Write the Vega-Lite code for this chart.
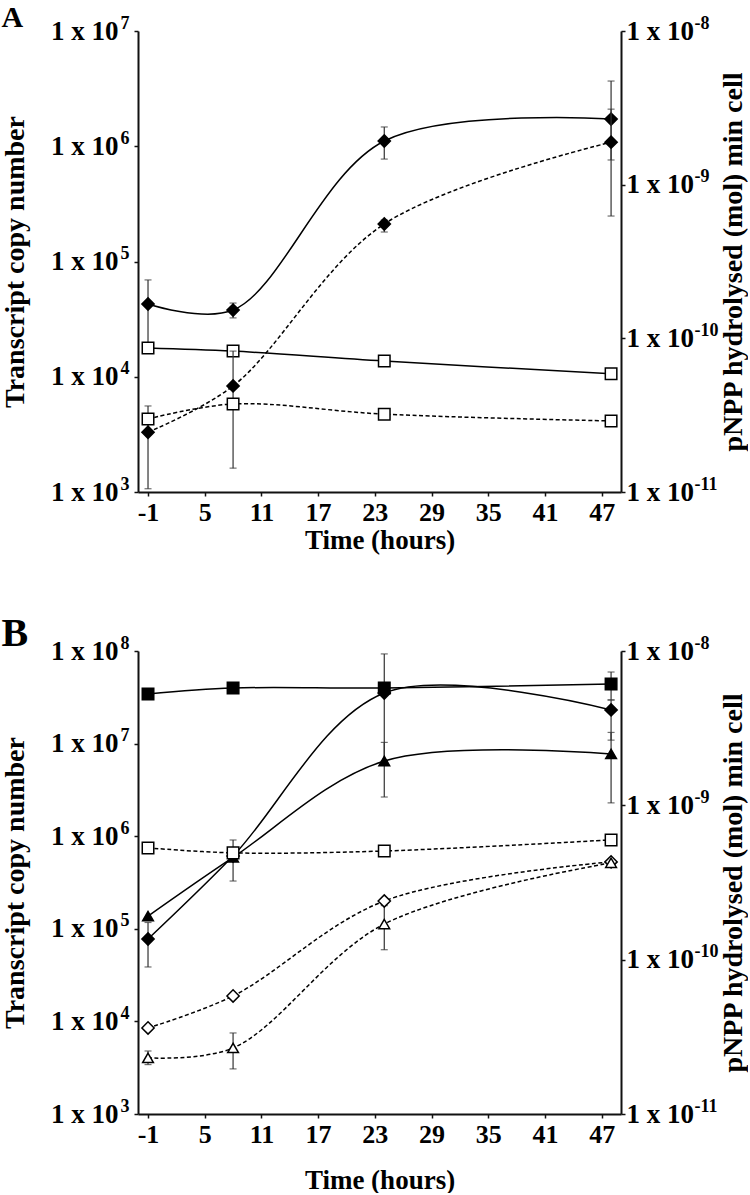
{
  "$schema": "https://vega.github.io/schema/vega-lite/v6.json",
  "padding": {"left": 1, "top": 3, "right": 0, "bottom": 0},
  "background": "white",
  "config": {
    "view": {"stroke": null},
    "font": "Liberation Serif",
    "axis": {
      "grid": false,
      "domainColor": "#111",
      "domainWidth": 2,
      "tickColor": "#111",
      "tickWidth": 1.5,
      "tickSize": 4,
      "labelFont": "Liberation Serif",
      "labelFontWeight": "bold",
      "labelColor": "#000",
      "titleFont": "Liberation Serif",
      "titleFontWeight": "bold",
      "titleColor": "#000",
      "labelOverlap": false,
      "labelFlush": false
    },
    "axisX": {"labelFontSize": 26, "labelPadding": 3, "titlePadding": 2, "titleFontSize": 27},
    "axisY": {"labelFontSize": 27, "labelPadding": 3, "titleFontSize": 28}
  },
  "datasets": {
    "A": [
      {"series": "A diamond transcript", "marker": "diamond", "fill": "filled", "axis": "transcript", "t": -1, "v": 42800, "lo": 16400, "hi": 69200},
      {"series": "A diamond transcript", "marker": "diamond", "fill": "filled", "axis": "transcript", "t": 8, "v": 37900, "lo": 32400, "hi": 43600},
      {"series": "A diamond transcript", "marker": "diamond", "fill": "filled", "axis": "transcript", "t": 24, "v": 1110000, "lo": 774000, "hi": 1470000},
      {"series": "A diamond transcript", "marker": "diamond", "fill": "filled", "axis": "transcript", "t": 48, "v": 1720000, "lo": 760000, "hi": 3680000},
      {"series": "A square transcript", "marker": "square", "fill": "open", "axis": "transcript", "t": -1, "v": 17800, "lo": null, "hi": null},
      {"series": "A square transcript", "marker": "square", "fill": "open", "axis": "transcript", "t": 8, "v": 16700, "lo": null, "hi": null},
      {"series": "A square transcript", "marker": "square", "fill": "open", "axis": "transcript", "t": 24, "v": 13700, "lo": null, "hi": null},
      {"series": "A square transcript", "marker": "square", "fill": "open", "axis": "transcript", "t": 48, "v": 10600, "lo": null, "hi": null},
      {"series": "A diamond activity", "marker": "diamond", "fill": "filled", "axis": "activity", "t": -1, "v": 2.45e-11, "lo": 1.05e-11, "hi": 3.63e-11},
      {"series": "A diamond activity", "marker": "diamond", "fill": "filled", "axis": "activity", "t": 8, "v": 4.9e-11, "lo": null, "hi": null},
      {"series": "A diamond activity", "marker": "diamond", "fill": "filled", "axis": "activity", "t": 24, "v": 5.55e-10, "lo": 4.92e-10, "hi": 5.89e-10},
      {"series": "A diamond activity", "marker": "diamond", "fill": "filled", "axis": "activity", "t": 48, "v": 1.89e-9, "lo": 6.25e-10, "hi": 3.1e-9},
      {"series": "A square activity", "marker": "square", "fill": "open", "axis": "activity", "t": -1, "v": 2.99e-11, "lo": null, "hi": null},
      {"series": "A square activity", "marker": "square", "fill": "open", "axis": "activity", "t": 8, "v": 3.74e-11, "lo": 1.43e-11, "hi": 8.26e-11},
      {"series": "A square activity", "marker": "square", "fill": "open", "axis": "activity", "t": 24, "v": 3.21e-11, "lo": null, "hi": null},
      {"series": "A square activity", "marker": "square", "fill": "open", "axis": "activity", "t": 48, "v": 2.9e-11, "lo": null, "hi": null}
    ],
    "B": [
      {"series": "B square transcript", "marker": "square", "fill": "filled", "axis": "transcript", "t": -1, "v": 34400000, "lo": null, "hi": null},
      {"series": "B square transcript", "marker": "square", "fill": "filled", "axis": "transcript", "t": 8, "v": 39800000, "lo": null, "hi": null},
      {"series": "B square transcript", "marker": "square", "fill": "filled", "axis": "transcript", "t": 24, "v": 39800000, "lo": null, "hi": null},
      {"series": "B square transcript", "marker": "square", "fill": "filled", "axis": "transcript", "t": 48, "v": 44000000, "lo": 29600000, "hi": 59300000},
      {"series": "B diamond transcript", "marker": "diamond", "fill": "filled", "axis": "transcript", "t": -1, "v": 77600, "lo": 38700, "hi": 117000},
      {"series": "B diamond transcript", "marker": "diamond", "fill": "filled", "axis": "transcript", "t": 8, "v": 611000, "lo": 328000, "hi": 910000},
      {"series": "B diamond transcript", "marker": "diamond", "fill": "filled", "axis": "transcript", "t": 24, "v": 35200000, "lo": 6500000, "hi": 93000000},
      {"series": "B diamond transcript", "marker": "diamond", "fill": "filled", "axis": "transcript", "t": 48, "v": 23100000, "lo": 10900000, "hi": 29600000},
      {"series": "B triangle transcript", "marker": "triangle", "fill": "filled", "axis": "transcript", "t": -1, "v": 137000, "lo": null, "hi": null},
      {"series": "B triangle transcript", "marker": "triangle", "fill": "filled", "axis": "transcript", "t": 8, "v": 590000, "lo": null, "hi": null},
      {"series": "B triangle transcript", "marker": "triangle", "fill": "filled", "axis": "transcript", "t": 24, "v": 6490000, "lo": 2650000, "hi": 10300000},
      {"series": "B triangle transcript", "marker": "triangle", "fill": "filled", "axis": "transcript", "t": 48, "v": 7730000, "lo": 2290000, "hi": 13200000},
      {"series": "B square activity", "marker": "square", "fill": "open", "axis": "activity", "t": -1, "v": 5.3e-10, "lo": null, "hi": null},
      {"series": "B square activity", "marker": "square", "fill": "open", "axis": "activity", "t": 8, "v": 4.92e-10, "lo": null, "hi": null},
      {"series": "B square activity", "marker": "square", "fill": "open", "axis": "activity", "t": 24, "v": 5.06e-10, "lo": null, "hi": null},
      {"series": "B square activity", "marker": "square", "fill": "open", "axis": "activity", "t": 48, "v": 5.97e-10, "lo": null, "hi": null},
      {"series": "B diamond activity", "marker": "diamond", "fill": "open", "axis": "activity", "t": -1, "v": 3.61e-11, "lo": null, "hi": null},
      {"series": "B diamond activity", "marker": "diamond", "fill": "open", "axis": "activity", "t": 8, "v": 5.82e-11, "lo": null, "hi": null},
      {"series": "B diamond activity", "marker": "diamond", "fill": "open", "axis": "activity", "t": 24, "v": 2.4e-10, "lo": null, "hi": null},
      {"series": "B diamond activity", "marker": "diamond", "fill": "open", "axis": "activity", "t": 48, "v": 4.3e-10, "lo": null, "hi": null},
      {"series": "B triangle activity", "marker": "triangle", "fill": "open", "axis": "activity", "t": -1, "v": 2.31e-11, "lo": 2.09e-11, "hi": 2.56e-11},
      {"series": "B triangle activity", "marker": "triangle", "fill": "open", "axis": "activity", "t": 8, "v": 2.68e-11, "lo": 1.96e-11, "hi": 3.35e-11},
      {"series": "B triangle activity", "marker": "triangle", "fill": "open", "axis": "activity", "t": 24, "v": 1.7e-10, "lo": 1.16e-10, "hi": 2.24e-10},
      {"series": "B triangle activity", "marker": "triangle", "fill": "open", "axis": "activity", "t": 48, "v": 4.24e-10, "lo": null, "hi": null}
    ]
  },
  "vconcat": [
    {
      "data": {"name": "A"},
      "width": 483,
      "height": 461,
      "title": {"text": "A", "anchor": "start", "frame": "bounds", "font": "Liberation Serif", "fontWeight": "bold", "fontSize": 30, "color": "#000", "offset": -19},
      "encoding": {
        "x": {"field": "t", "type": "quantitative", "title": "Time (hours)", "scale": {"domain": [-2.06, 49.05], "nice": false, "zero": false}, "axis": {"values": [-1, 5, 11, 17, 23, 29, 35, 41, 47], "labelExpr": "'' + datum.value"}}
      },
      "layer": [
        {
          "transform": [{"filter": "datum.axis == 'transcript'"}],
          "layer": [
            {"transform": [{"filter": "isValid(datum.lo)"}], "mark": {"type": "rule", "color": "#333", "strokeWidth": 1.2}, "encoding": {"y": {"field": "lo", "type": "quantitative", "title": "Transcript copy number", "scale": {"type": "log", "domain": [1000, 10000000], "nice": false}, "axis": {"orient": "left", "values": [1000, 10000, 100000, 1000000, 10000000], "labelExpr": "'1 x 10'", "labelPadding": 16, "titlePadding": 21}}, "y2": {"field": "hi"}}},
            {"transform": [{"filter": "isValid(datum.lo)"}], "mark": {"type": "tick", "orient": "horizontal", "color": "#333", "thickness": 1.2, "size": 7}, "encoding": {"y": {"field": "lo", "type": "quantitative", "scale": {"type": "log", "domain": [1000, 10000000], "nice": false}, "axis": null}}},
            {"transform": [{"filter": "isValid(datum.hi)"}], "mark": {"type": "tick", "orient": "horizontal", "color": "#333", "thickness": 1.2, "size": 7}, "encoding": {"y": {"field": "hi", "type": "quantitative", "scale": {"type": "log", "domain": [1000, 10000000], "nice": false}, "axis": null}}},
            {"mark": {"type": "line", "interpolate": "catmull-rom", "color": "#000", "strokeWidth": 1.5}, "encoding": {"detail": {"field": "series"}, "order": {"field": "t"}, "y": {"field": "v", "type": "quantitative", "scale": {"type": "log", "domain": [1000, 10000000], "nice": false}, "axis": null}}},
            {"mark": {"type": "point", "filled": true, "stroke": "#000", "strokeWidth": 1.5, "opacity": 1}, "encoding": {
              "y": {"field": "v", "type": "quantitative", "scale": {"type": "log", "domain": [1000, 10000000], "nice": false}, "axis": {"orient": "left", "values": [1000, 10000, 100000, 1000000, 10000000], "labelExpr": "datum.value > 5e7 ? '8' : datum.value > 5e6 ? '7' : datum.value > 5e5 ? '6' : datum.value > 5e4 ? '5' : datum.value > 5e3 ? '4' : '3'", "labelFontSize": 18, "labelPadding": 5, "labelOffset": -8, "domain": false, "tickOpacity": 0, "title": null}},
              "shape": {"field": "marker", "type": "nominal", "scale": {"domain": ["diamond", "square", "triangle"], "range": ["diamond", "square", "triangle-up"]}, "legend": null},
              "fill": {"field": "fill", "type": "nominal", "scale": {"domain": ["filled", "open"], "range": ["#000000", "#ffffff"]}, "legend": null},
              "size": {"field": "marker", "type": "ordinal", "scale": {"domain": ["diamond", "square", "triangle"], "range": [150, 115, 160]}, "legend": null}
            }}
          ],
          "resolve": {"axis": {"y": "independent"}}
        },
        {
          "transform": [{"filter": "datum.axis == 'activity'"}],
          "layer": [
            {"transform": [{"filter": "isValid(datum.lo)"}], "mark": {"type": "rule", "color": "#333", "strokeWidth": 1.2}, "encoding": {"y": {"field": "lo", "type": "quantitative", "scale": {"type": "log", "domain": [1e-11, 1e-8], "nice": false}, "axis": {"orient": "right", "values": [1e-11, 1e-10, 1e-9, 1e-8], "labelExpr": "'1 x 10'", "labelPadding": 1, "title": null}}, "y2": {"field": "hi"}}},
            {"transform": [{"filter": "isValid(datum.lo)"}], "mark": {"type": "tick", "orient": "horizontal", "color": "#333", "thickness": 1.2, "size": 7}, "encoding": {"y": {"field": "lo", "type": "quantitative", "scale": {"type": "log", "domain": [1e-11, 1e-8], "nice": false}, "axis": null}}},
            {"transform": [{"filter": "isValid(datum.hi)"}], "mark": {"type": "tick", "orient": "horizontal", "color": "#333", "thickness": 1.2, "size": 7}, "encoding": {"y": {"field": "hi", "type": "quantitative", "scale": {"type": "log", "domain": [1e-11, 1e-8], "nice": false}, "axis": null}}},
            {"mark": {"type": "line", "interpolate": "catmull-rom", "color": "#000", "strokeWidth": 1.5, "strokeDash": [4, 2.5]}, "encoding": {"detail": {"field": "series"}, "order": {"field": "t"}, "y": {"field": "v", "type": "quantitative", "scale": {"type": "log", "domain": [1e-11, 1e-8], "nice": false}, "axis": null}}},
            {"mark": {"type": "point", "filled": true, "stroke": "#000", "strokeWidth": 1.5, "opacity": 1}, "encoding": {
              "y": {"field": "v", "type": "quantitative", "title": "pNPP hydrolysed (mol) min  cell", "scale": {"type": "log", "domain": [1e-11, 1e-8], "nice": false}, "axis": {"orient": "right", "values": [1e-11, 1e-10, 1e-9, 1e-8], "labelExpr": "datum.value > 5e-9 ? '-8' : datum.value > 5e-10 ? '-9' : datum.value > 5e-11 ? '-10' : '-11'", "labelFontSize": 18, "labelPadding": 69, "labelOffset": -8, "domain": false, "tickOpacity": 0, "titleAngle": 270, "titleBaseline": "top", "titlePadding": 2}},
              "shape": {"field": "marker", "type": "nominal", "scale": {"domain": ["diamond", "square", "triangle"], "range": ["diamond", "square", "triangle-up"]}, "legend": null},
              "fill": {"field": "fill", "type": "nominal", "scale": {"domain": ["filled", "open"], "range": ["#000000", "#ffffff"]}, "legend": null},
              "size": {"field": "marker", "type": "ordinal", "scale": {"domain": ["diamond", "square", "triangle"], "range": [150, 115, 160]}, "legend": null}
            }}
          ],
          "resolve": {"axis": {"y": "independent"}}
        }
      ],
      "resolve": {"scale": {"y": "independent"}, "axis": {"y": "independent"}}
    },
    {
      "data": {"name": "B"},
      "width": 483,
      "height": 463,
      "title": {"text": "B", "anchor": "start", "frame": "bounds", "font": "Liberation Serif", "fontWeight": "bold", "fontSize": 40, "color": "#000", "offset": -20},
      "encoding": {
        "x": {"field": "t", "type": "quantitative", "title": "Time (hours)", "scale": {"domain": [-2.06, 49.05], "nice": false, "zero": false}, "axis": {"values": [-1, 5, 11, 17, 23, 29, 35, 41, 47], "labelExpr": "'' + datum.value", "titlePadding": 20}}
      },
      "layer": [
        {
          "transform": [{"filter": "datum.axis == 'transcript'"}],
          "layer": [
            {"transform": [{"filter": "isValid(datum.lo)"}], "mark": {"type": "rule", "color": "#333", "strokeWidth": 1.2}, "encoding": {"y": {"field": "lo", "type": "quantitative", "title": "Transcript copy number", "scale": {"type": "log", "domain": [1000, 100000000], "nice": false}, "axis": {"orient": "left", "values": [1000, 10000, 100000, 1000000, 10000000, 100000000], "labelExpr": "'1 x 10'", "labelPadding": 16, "titlePadding": 21}}, "y2": {"field": "hi"}}},
            {"transform": [{"filter": "isValid(datum.lo)"}], "mark": {"type": "tick", "orient": "horizontal", "color": "#333", "thickness": 1.2, "size": 7}, "encoding": {"y": {"field": "lo", "type": "quantitative", "scale": {"type": "log", "domain": [1000, 100000000], "nice": false}, "axis": null}}},
            {"transform": [{"filter": "isValid(datum.hi)"}], "mark": {"type": "tick", "orient": "horizontal", "color": "#333", "thickness": 1.2, "size": 7}, "encoding": {"y": {"field": "hi", "type": "quantitative", "scale": {"type": "log", "domain": [1000, 100000000], "nice": false}, "axis": null}}},
            {"mark": {"type": "line", "interpolate": "catmull-rom", "color": "#000", "strokeWidth": 1.5}, "encoding": {"detail": {"field": "series"}, "order": {"field": "t"}, "y": {"field": "v", "type": "quantitative", "scale": {"type": "log", "domain": [1000, 100000000], "nice": false}, "axis": null}}},
            {"mark": {"type": "point", "filled": true, "stroke": "#000", "strokeWidth": 1.5, "opacity": 1}, "encoding": {
              "y": {"field": "v", "type": "quantitative", "scale": {"type": "log", "domain": [1000, 100000000], "nice": false}, "axis": {"orient": "left", "values": [1000, 10000, 100000, 1000000, 10000000, 100000000], "labelExpr": "datum.value > 5e7 ? '8' : datum.value > 5e6 ? '7' : datum.value > 5e5 ? '6' : datum.value > 5e4 ? '5' : datum.value > 5e3 ? '4' : '3'", "labelFontSize": 18, "labelPadding": 5, "labelOffset": -8, "domain": false, "tickOpacity": 0, "title": null}},
              "shape": {"field": "marker", "type": "nominal", "scale": {"domain": ["diamond", "square", "triangle"], "range": ["diamond", "square", "triangle-up"]}, "legend": null},
              "fill": {"field": "fill", "type": "nominal", "scale": {"domain": ["filled", "open"], "range": ["#000000", "#ffffff"]}, "legend": null},
              "size": {"field": "marker", "type": "ordinal", "scale": {"domain": ["diamond", "square", "triangle"], "range": [140, 135, 160]}, "legend": null}
            }}
          ],
          "resolve": {"axis": {"y": "independent"}}
        },
        {
          "transform": [{"filter": "datum.axis == 'activity'"}],
          "layer": [
            {"transform": [{"filter": "isValid(datum.lo)"}], "mark": {"type": "rule", "color": "#333", "strokeWidth": 1.2}, "encoding": {"y": {"field": "lo", "type": "quantitative", "scale": {"type": "log", "domain": [1e-11, 1e-8], "nice": false}, "axis": {"orient": "right", "values": [1e-11, 1e-10, 1e-9, 1e-8], "labelExpr": "'1 x 10'", "labelPadding": 1, "title": null}}, "y2": {"field": "hi"}}},
            {"transform": [{"filter": "isValid(datum.lo)"}], "mark": {"type": "tick", "orient": "horizontal", "color": "#333", "thickness": 1.2, "size": 7}, "encoding": {"y": {"field": "lo", "type": "quantitative", "scale": {"type": "log", "domain": [1e-11, 1e-8], "nice": false}, "axis": null}}},
            {"transform": [{"filter": "isValid(datum.hi)"}], "mark": {"type": "tick", "orient": "horizontal", "color": "#333", "thickness": 1.2, "size": 7}, "encoding": {"y": {"field": "hi", "type": "quantitative", "scale": {"type": "log", "domain": [1e-11, 1e-8], "nice": false}, "axis": null}}},
            {"mark": {"type": "line", "interpolate": "catmull-rom", "color": "#000", "strokeWidth": 1.5, "strokeDash": [4, 2.5]}, "encoding": {"detail": {"field": "series"}, "order": {"field": "t"}, "y": {"field": "v", "type": "quantitative", "scale": {"type": "log", "domain": [1e-11, 1e-8], "nice": false}, "axis": null}}},
            {"mark": {"type": "point", "filled": true, "stroke": "#000", "strokeWidth": 1.5, "opacity": 1}, "encoding": {
              "y": {"field": "v", "type": "quantitative", "title": "pNPP hydrolysed (mol) min  cell", "scale": {"type": "log", "domain": [1e-11, 1e-8], "nice": false}, "axis": {"orient": "right", "values": [1e-11, 1e-10, 1e-9, 1e-8], "labelExpr": "datum.value > 5e-9 ? '-8' : datum.value > 5e-10 ? '-9' : datum.value > 5e-11 ? '-10' : '-11'", "labelFontSize": 18, "labelPadding": 69, "labelOffset": -8, "domain": false, "tickOpacity": 0, "titleAngle": 270, "titleBaseline": "top", "titlePadding": 2}},
              "shape": {"field": "marker", "type": "nominal", "scale": {"domain": ["diamond", "square", "triangle"], "range": ["diamond", "square", "triangle-up"]}, "legend": null},
              "fill": {"field": "fill", "type": "nominal", "scale": {"domain": ["filled", "open"], "range": ["#000000", "#ffffff"]}, "legend": null},
              "size": {"field": "marker", "type": "ordinal", "scale": {"domain": ["diamond", "square", "triangle"], "range": [170, 115, 150]}, "legend": null}
            }}
          ],
          "resolve": {"axis": {"y": "independent"}}
        }
      ],
      "resolve": {"scale": {"y": "independent"}, "axis": {"y": "independent"}}
    }
  ],
  "spacing": 61
}
